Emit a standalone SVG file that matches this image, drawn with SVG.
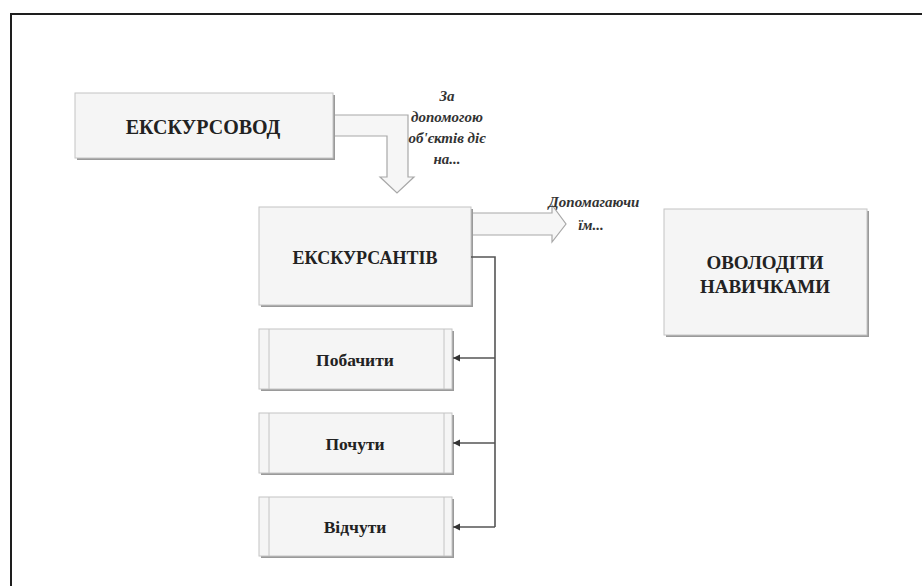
<svg xmlns="http://www.w3.org/2000/svg" width="922" height="586" viewBox="0 0 922 586">
<defs>
<style>
.box{fill:#f5f5f5;stroke:#c4c4c4;stroke-width:1}
.sh{fill:#9a9a9a}
.t{font-family:"Liberation Serif","DejaVu Serif",serif;font-weight:bold;fill:#222;text-anchor:middle}
.it{font-family:"Liberation Serif","DejaVu Serif",serif;font-style:italic;font-weight:bold;fill:#333;text-anchor:middle;font-size:15px}
.arr{fill:#f6f6f6;stroke:#a8a8a8;stroke-width:1.2;stroke-linejoin:miter}
.con{fill:none;stroke:#555;stroke-width:1.6}
.inner{stroke:#c4c4c4;stroke-width:1}
</style>
<marker id="ah" markerWidth="8" markerHeight="8" refX="7" refY="4" orient="auto" markerUnits="userSpaceOnUse">
<path d="M0,0.5 L7,4 L0,7.5 Z" fill="#333"/>
</marker>
</defs>
<rect width="922" height="586" fill="#fff"/>
<g id="frame" stroke="#1e1e1e" stroke-width="2" fill="none">
<line x1="10" y1="14" x2="922" y2="14"/>
<line x1="11" y1="14" x2="11" y2="586"/>
</g>
<g id="arrows">
<path class="arr" d="M333,115 L408,115 L408,177 L414,177 L397,193 L380,177 L387,177 L387,136 L333,136 Z"/>
<path class="arr" d="M471,213 L552,213 L552,205 L566,224 L552,242 L552,235 L471,235 Z"/>
</g>
<g id="n1">
<rect class="sh" x="77" y="95" width="258" height="65"/>
<rect class="box" x="75" y="93" width="258" height="65"/>
<text class="t" x="203" y="134" font-size="20">ЕКСКУРСОВОД</text>
</g>
<g id="n2">
<rect class="sh" x="261" y="209" width="212" height="98"/>
<rect class="box" x="259" y="207" width="212" height="98"/>
<text class="t" x="365" y="264" font-size="18">ЕКСКУРСАНТІВ</text>
</g>
<g id="n3">
<rect class="sh" x="666" y="211" width="203" height="126"/>
<rect class="box" x="664" y="209" width="203" height="126"/>
<text class="t" x="765" y="269" font-size="19">ОВОЛОДІТИ</text>
<text class="t" x="765" y="293" font-size="19">НАВИЧКАМИ</text>
</g>
<g id="n4">
<rect class="sh" x="261" y="331" width="193" height="60"/>
<rect class="box" x="259" y="329" width="193" height="60"/>
<line class="inner" x1="269" y1="329" x2="269" y2="389"/>
<line class="inner" x1="444" y1="329" x2="444" y2="389"/>
<text class="t" x="355" y="366" font-size="17.5">Побачити</text>
</g>
<g id="n5">
<rect class="sh" x="261" y="415" width="193" height="60"/>
<rect class="box" x="259" y="413" width="193" height="60"/>
<line class="inner" x1="269" y1="413" x2="269" y2="473"/>
<line class="inner" x1="444" y1="413" x2="444" y2="473"/>
<text class="t" x="355" y="450" font-size="17.5">Почути</text>
</g>
<g id="n6">
<rect class="sh" x="261" y="499" width="193" height="59"/>
<rect class="box" x="259" y="497" width="193" height="59"/>
<line class="inner" x1="269" y1="497" x2="269" y2="556"/>
<line class="inner" x1="444" y1="497" x2="444" y2="556"/>
<text class="t" x="355" y="533" font-size="17.5">Відчути</text>
</g>
<g id="labels">
<text class="it" x="447" y="101">За</text>
<text class="it" x="447" y="122">допомогою</text>
<text class="it" x="447" y="143">об'єктів діє</text>
<text class="it" x="447" y="164">на...</text>
<text class="it" x="594" y="207" font-size="17">Допомагаючи</text>
<text class="it" x="591" y="230" font-size="17">їм...</text>
</g>
<g id="connectors">
<path class="con" d="M471,257 L495,257 L495,527"/>
<line class="con" x1="495" y1="358" x2="453" y2="358" marker-end="url(#ah)"/>
<line class="con" x1="495" y1="443" x2="453" y2="443" marker-end="url(#ah)"/>
<line class="con" x1="495" y1="527" x2="453" y2="527" marker-end="url(#ah)"/>
</g>
</svg>
